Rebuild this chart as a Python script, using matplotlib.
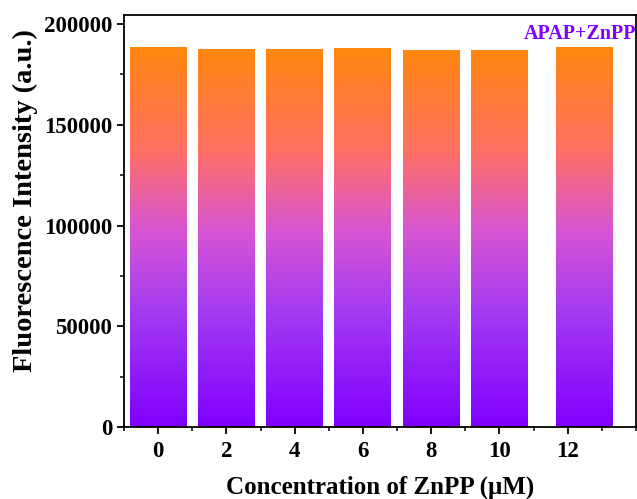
import numpy as np
import matplotlib
matplotlib.use("Agg")
import matplotlib.pyplot as plt
from matplotlib.colors import LinearSegmentedColormap
from matplotlib.ticker import MultipleLocator

# Data
concentrations = [0, 2, 4, 6, 8, 10, 12.5]
tick_values = [0, 2, 4, 6, 8, 10, 12]
intensity = [188500, 187600, 187600, 188000, 187200, 187200, 188500]

plt.rcParams["font.family"] = ["Liberation Serif", "DejaVu Serif"]
plt.rcParams["font.weight"] = "bold"

# Orange (top) to purple (bottom) gradient
grad_cmap = LinearSegmentedColormap.from_list(
    "fade",
    [
        (0.00, (128 / 255, 0 / 255, 255 / 255)),
        (0.31, (165 / 255, 60 / 255, 240 / 255)),
        (0.52, (215 / 255, 85 / 255, 210 / 255)),
        (0.73, (255 / 255, 112 / 255, 100 / 255)),
        (1.00, (255 / 255, 135 / 255, 15 / 255)),
    ],
)

fig = plt.figure(figsize=(6.37, 4.99), dpi=100)
ax = fig.add_axes([0.1947, 0.1443, 0.8037, 0.8257])

bar_width = 1.67
bars = ax.bar(concentrations, intensity, width=bar_width, color="none",
              edgecolor="none")

gradient = np.linspace(0, 1, 256).reshape(-1, 1)
for b in bars:
    x0 = b.get_x()
    h = b.get_height()
    im = ax.imshow(gradient, cmap=grad_cmap, origin="lower", aspect="auto",
                   extent=[x0, x0 + b.get_width(), 0, h], interpolation="bilinear",
                   zorder=2)
    im.set_clip_path(b)

ax.set_xlim(-1, 14)
ax.set_ylim(0, 204500)

ax.set_xticks(tick_values)
ax.set_xticklabels([str(t) for t in tick_values])
ax.xaxis.set_minor_locator(MultipleLocator(1))
ax.set_yticks([0, 50000, 100000, 150000, 200000])
ax.yaxis.set_minor_locator(MultipleLocator(25000))

ax.tick_params(which="major", direction="out", length=5, width=1.3, labelsize=16.5)
ax.tick_params(which="minor", direction="out", length=3, width=1.1)
ax.tick_params(axis="x", pad=5)
for lbl in ax.get_xticklabels() + ax.get_yticklabels():
    lbl.set_fontweight("bold")

for s in ax.spines.values():
    s.set_linewidth(1.3)

ax.set_xlabel("Concentration of ZnPP (\u03bcM)", fontsize=18, fontweight="bold", labelpad=10)
ax.set_ylabel("Fluorescence Intensity (a.u.)", fontsize=20.5, fontweight="bold")
ax.yaxis.set_label_coords(-0.168, 0.549)

ax.text(1.0, 0.953, "APAP+ZnPP", transform=ax.transAxes, ha="right", va="center",
        color="#8000ff", fontsize=14.5, fontweight="bold")

fig.savefig("out.png", dpi=100)
